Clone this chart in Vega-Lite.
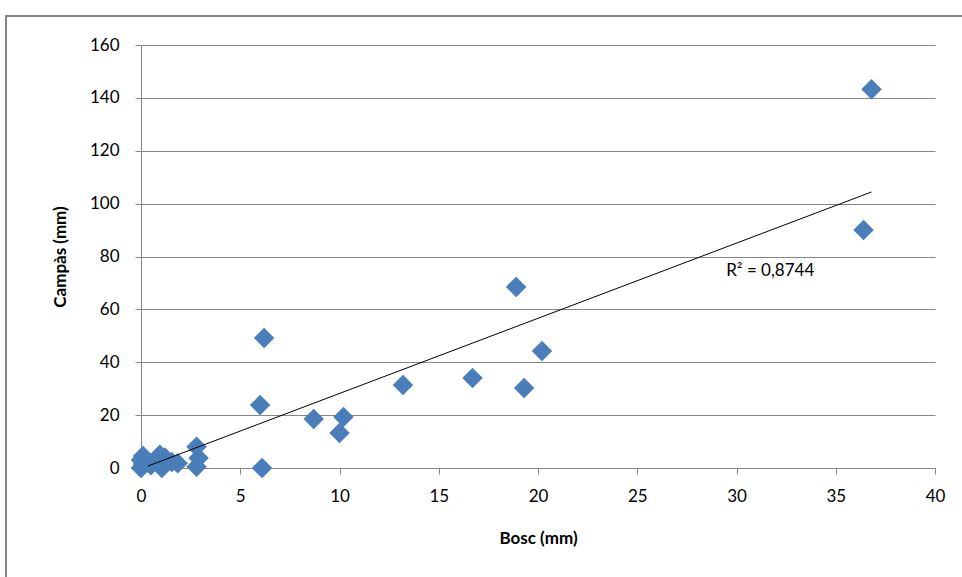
{
  "$schema": "https://vega.github.io/schema/vega-lite/v6.json",
  "autosize": "none",
  "width": 794,
  "height": 423,
  "padding": {"left": 141, "top": 45, "right": 27, "bottom": 109},
  "background": "white",
  "config": {
    "view": {"stroke": null},
    "font": "Lato",
    "axis": {
      "labelFont": "Lato",
      "titleFont": "Lato",
      "labelFontSize": 17,
      "titleFontSize": 17,
      "labelColor": "#000000",
      "titleColor": "#000000",
      "titleFontWeight": "bold",
      "domainColor": "#868686",
      "tickColor": "#868686",
      "gridColor": "#868686",
      "domainWidth": 1,
      "gridWidth": 1,
      "tickSize": 6,
      "labelFlush": false,
      "labelOverlap": false
    }
  },
  "datasets": {
    "points": [
      {"bosc": 36.8, "campas": 143.3},
      {"bosc": 36.4, "campas": 90},
      {"bosc": 18.9, "campas": 68.5},
      {"bosc": 20.2, "campas": 44.3},
      {"bosc": 19.3, "campas": 30.3},
      {"bosc": 16.7, "campas": 34},
      {"bosc": 13.2, "campas": 31.4},
      {"bosc": 10.2, "campas": 19.3},
      {"bosc": 10.0, "campas": 13.2},
      {"bosc": 8.7, "campas": 18.5},
      {"bosc": 6.2, "campas": 49.2},
      {"bosc": 6.0, "campas": 23.8},
      {"bosc": 6.1, "campas": 0},
      {"bosc": 2.8, "campas": 8},
      {"bosc": 2.9, "campas": 3.8},
      {"bosc": 2.8, "campas": 0.5},
      {"bosc": 0.0, "campas": 3},
      {"bosc": 0.0, "campas": 0},
      {"bosc": 0.1, "campas": 1.5},
      {"bosc": 0.1, "campas": 4.5},
      {"bosc": 0.3, "campas": 2},
      {"bosc": 0.5, "campas": 1},
      {"bosc": 0.95, "campas": 5},
      {"bosc": 1.05, "campas": 0},
      {"bosc": 0.8, "campas": 3},
      {"bosc": 1.3, "campas": 2.5},
      {"bosc": 1.55, "campas": 2.3},
      {"bosc": 1.85, "campas": 1.8},
      {"bosc": 1.2, "campas": 4}
    ],
    "trend": [
      {"bosc": 0.35, "campas": 0.75},
      {"bosc": 36.8, "campas": 104.4}
    ],
    "label": [
      {"bosc": 31.7, "campas": 74.5, "text": "R² = 0,8744"}
    ]
  },
  "layer": [
    {
      "data": {"values": [{}]},
      "mark": {"type": "rect", "fill": null, "stroke": "#868686", "strokeWidth": 2, "clip": false},
      "encoding": {
        "x": {"datum": -6.8, "type": "quantitative", "scale": {"domain": [0, 40], "nice": false, "padding": 0}},
        "x2": {"datum": 60},
        "y": {"datum": 171, "type": "quantitative", "scale": {"domain": [0, 160], "nice": false, "padding": 0}},
        "y2": {"datum": -80}
      }
    },
    {
      "data": {"name": "points"},
      "mark": {"type": "point", "shape": "diamond", "filled": true, "size": 420, "color": "#4A7EBB", "opacity": 1},
      "encoding": {
        "x": {
          "field": "bosc", "type": "quantitative", "title": "Bosc (mm)",
          "scale": {"domain": [0, 40], "nice": false, "padding": 0},
          "axis": {"values": [0,5,10,15,20,25,30,35,40], "grid": false, "labelPadding": 14, "titlePadding": 26}
        },
        "y": {
          "field": "campas", "type": "quantitative", "title": "Campàs (mm)",
          "scale": {"domain": [0, 160], "nice": false, "padding": 0},
          "axis": {"values": [0,20,40,60,80,100,120,140,160], "grid": true, "labelPadding": 16, "titlePadding": 20}
        }
      }
    },
    {
      "data": {"name": "trend"},
      "mark": {"type": "line", "color": "#000000", "strokeWidth": 1},
      "encoding": {
        "x": {"field": "bosc", "type": "quantitative"},
        "y": {"field": "campas", "type": "quantitative"}
      }
    },
    {
      "data": {"name": "label"},
      "mark": {"type": "text", "fontSize": 17, "font": "Lato", "color": "#000000", "align": "center", "baseline": "middle"},
      "encoding": {
        "x": {"field": "bosc", "type": "quantitative"},
        "y": {"field": "campas", "type": "quantitative"},
        "text": {"field": "text"}
      }
    }
  ]
}
